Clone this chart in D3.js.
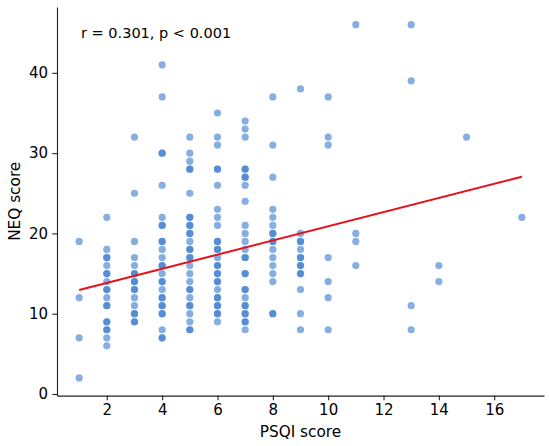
<!DOCTYPE html>
<html>
<head>
<meta charset="utf-8">
<script src="https://cdn.jsdelivr.net/npm/d3@7"></script>
<style>
  body { margin: 0; background: #fff; }
  text { font-family: "DejaVu Sans", sans-serif; fill: #000; }
</style>
</head>
<body>
<svg id="chart" width="550" height="446"></svg>
<script>
// PSQI score columns and the NEQ scores observed at each one
const psqiScores = [1, 2, 3, 4, 5, 6, 7, 8, 9, 10, 11, 13, 14, 15, 17];
const neqByPsqi = [
  [19, 12, 7, 2],
  [22, 18, 17, 17, 16, 15, 15, 14, 13, 13, 12, 11, 11, 9, 9, 8, 8, 7, 6],
  [32, 25, 19, 17, 16, 15, 15, 14, 14, 13, 13, 12, 11, 10, 10, 9, 9],
  [41, 37, 30, 30, 26, 22, 21, 21, 19, 19, 18, 17, 16, 16, 15, 14, 14, 13, 12, 12, 11, 11, 10, 10, 8, 7, 7],
  [32, 30, 29, 28, 28, 25, 22, 22, 21, 21, 20, 20, 19, 18, 18, 17, 17, 16, 15, 14, 13, 13, 12, 11, 11, 10, 9, 8, 8],
  [35, 32, 31, 28, 28, 26, 23, 22, 21, 19, 19, 18, 18, 17, 16, 16, 15, 15, 14, 14, 13, 12, 12, 11, 11, 10, 10, 9],
  [34, 33, 32, 28, 28, 27, 27, 26, 24, 21, 20, 19, 18, 17, 17, 15, 15, 13, 13, 12, 11, 11, 10, 10, 9, 9, 8],
  [37, 31, 27, 23, 22, 21, 20, 20, 19, 19, 18, 17, 16, 15, 14, 10, 10],
  [38, 20, 19, 19, 18, 17, 17, 16, 16, 15, 15, 13, 10, 8],
  [37, 32, 31, 17, 14, 12, 8],
  [46, 20, 19, 16],
  [46, 39, 11, 8],
  [16, 14],
  [32],
  [22]
];

// regression line end points
const fitX = [1, 17];
const fitY = [12.95, 27.06];

const xTicks = [2, 4, 6, 8, 10, 12, 14, 16];
const yTicks = [0, 10, 20, 30, 40];
const annotation = "r = 0.301, p < 0.001";

const width = 550;
const height = 446;
const marginTop = 7;
const marginRight = 6;
const marginBottom = 50.4;
const marginLeft = 57;

const points = psqiScores.flatMap((p, i) => neqByPsqi[i].map(v => ({ x: p, y: v })));

const svg = d3.select("#chart");

const x = d3.scaleLinear()
  .domain([0.2, 17.8])
  .range([marginLeft, width - marginRight]);

const y = d3.scaleLinear()
  .domain([-0.2, 48.2])
  .range([height - marginBottom, marginTop]);

// points
svg.append("g")
  .selectAll("circle")
  .data(points)
  .join("circle")
  .attr("cx", d => x(d.x))
  .attr("cy", d => y(d.y))
  .attr("r", 3.6)
  .attr("fill", "#3578cc")
  .attr("fill-opacity", 0.6);

// regression line
const fit = fitX.map((v, i) => [v, fitY[i]]);
svg.append("path")
  .datum(fit)
  .attr("d", d3.line().x(d => x(d[0])).y(d => y(d[1])))
  .attr("fill", "none")
  .attr("stroke", "#e8101a")
  .attr("stroke-width", 2);

// x axis
const gx = svg.append("g")
  .attr("transform", `translate(0,${height - marginBottom})`)
  .call(d3.axisBottom(x).tickValues(xTicks).tickSize(4.7).tickPadding(4.3).tickSizeOuter(0));
gx.selectAll("text").style("font-size", "15px");

// y axis
const gy = svg.append("g")
  .attr("transform", `translate(${marginLeft},0)`)
  .call(d3.axisLeft(y).tickValues(yTicks).tickSize(4.7).tickPadding(4.3).tickSizeOuter(0));
gy.selectAll("text").style("font-size", "15px");

svg.selectAll(".domain").attr("stroke", "#222").attr("stroke-width", 1.1);
svg.selectAll(".tick line").attr("stroke", "#222").attr("stroke-width", 1.1);

// axis labels
svg.append("text")
  .attr("x", (marginLeft + width - marginRight) / 2)
  .attr("y", 437)
  .attr("text-anchor", "middle")
  .style("font-size", "15.3px")
  .text("PSQI score");

svg.append("text")
  .attr("transform", `translate(19.5,${(marginTop + height - marginBottom) / 2}) rotate(-90)`)
  .attr("text-anchor", "middle")
  .style("font-size", "15.3px")
  .text("NEQ score");

// correlation note
svg.append("text")
  .attr("x", 81)
  .attr("y", 37.5)
  .style("font-size", "14.5px")
  .text(annotation);
</script>
</body>
</html>
